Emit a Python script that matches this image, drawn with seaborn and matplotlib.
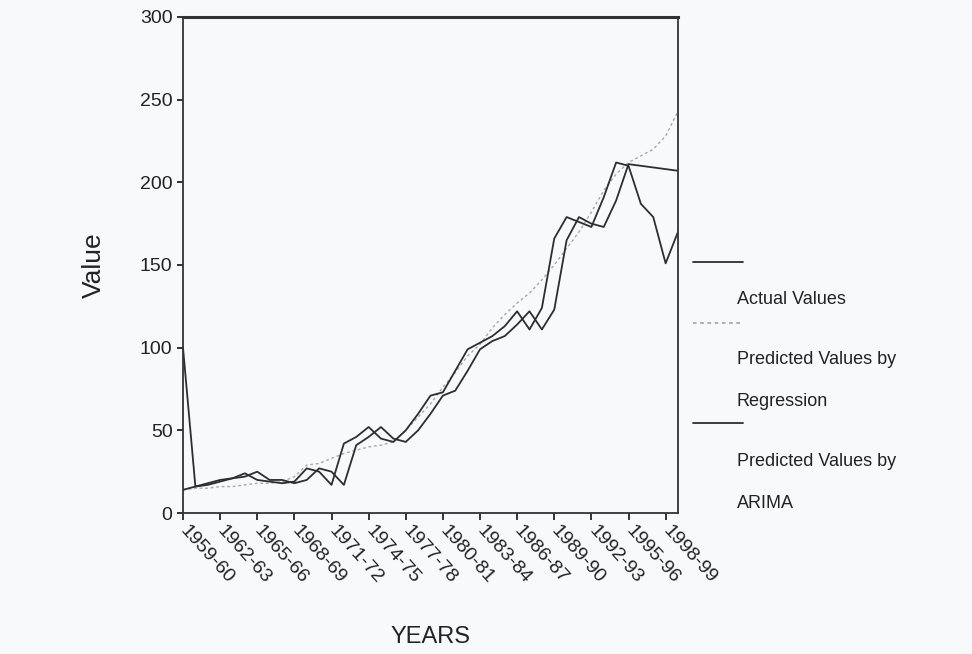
import numpy as np
import pandas as pd
import matplotlib
matplotlib.use("Agg")
import matplotlib.pyplot as plt
import seaborn as sns
from matplotlib.lines import Line2D

sns.set_style("ticks")
plt.rcParams['font.family'] = ['Liberation Sans', 'DejaVu Sans']

# anos (41 periodos, rotulo a cada 3)
anos = ["1959-60", "1960-61", "1961-62", "1962-63", "1963-64", "1964-65", "1965-66",
        "1966-67", "1967-68", "1968-69", "1969-70", "1970-71", "1971-72", "1972-73",
        "1973-74", "1974-75", "1975-76", "1976-77", "1977-78", "1978-79", "1979-80",
        "1980-81", "1981-82", "1982-83", "1983-84", "1984-85", "1985-86", "1986-87",
        "1987-88", "1988-89", "1989-90", "1990-91", "1991-92", "1992-93", "1993-94",
        "1994-95", "1995-96", "1996-97", "1997-98", "1998-99", "1999-00"]

actual = [14, 16, 18, 20, 21, 24, 20, 19, 18, 19, 27, 25, 17, 42, 46, 52, 45, 43, 50, 60,
          71, 73, 86, 99, 103, 107, 113, 122, 111, 124, 166, 179, 176, 173, 191, 212,
          210, 187, 179, 151, 170]

regressao = [14, 15, 15, 16, 16, 17, 18, 18, 19, 22, 29, 30, 33, 36, 38, 40, 41, 43, 50, 58,
             66, 76, 85, 95, 102, 112, 120, 127, 133, 141, 150, 160, 170, 182, 195, 205,
             212, 216, 220, 228, 243]

arima = [100, 16, 17, 19, 21, 22, 25, 20, 20, 18, 20, 27, 25, 17, 41, 46, 52, 45, 43, 50,
         60, 71, 74, 86, 99, 104, 107, 114, 122, 111, 123, 165, 179, 175, 173, 189,
         211, 210, 209, 208, 207]

df = pd.DataFrame({'pos': np.arange(len(anos)), 'ano': anos,
                   'actual': actual, 'regressao': regressao, 'arima': arima})

fundo = '#f7f9fb'
fig = plt.figure(figsize=(9.72, 6.54), dpi=100, facecolor=fundo)
ax = fig.add_axes([183 / 972, 1 - 513 / 654, (678 - 183) / 972, (513 - 17) / 654])
ax.set_facecolor(fundo)

sns.lineplot(x='pos', y='regressao', data=df, ax=ax, color='#a8a8a8', linewidth=1.0,
             linestyle=(0, (2, 2)))
sns.lineplot(x='pos', y='arima', data=df, ax=ax, color='#2e2e2e', linewidth=1.3)
sns.lineplot(x='pos', y='actual', data=df, ax=ax, color='#2e2e2e', linewidth=1.3)

ax.set_xlim(0, len(anos) - 1)
ax.set_ylim(0, 300)
ax.set_yticks(range(0, 301, 50))
ax.set_xticks(df['pos'][::3])
ax.set_xticklabels(df['ano'][::3], rotation=-48, ha='left', va='center',
                   rotation_mode='anchor', fontsize=14, color='#222222')
ax.tick_params(axis='y', labelsize=14, colors='#222222', length=4, width=1.3)
ax.tick_params(axis='x', length=5, width=1.3, pad=6)
for lado in ['left', 'right', 'bottom']:
    ax.spines[lado].set_linewidth(1.3)
    ax.spines[lado].set_color('#333333')
ax.spines['top'].set_linewidth(2.2)
ax.spines['top'].set_color('#333333')

ax.set_xlabel('YEARS', fontsize=17, color='#222222')
ax.xaxis.set_label_coords(0.5, -0.228)
ax.set_ylabel('Value', fontsize=19, color='#222222')
ax.yaxis.set_label_coords(-0.155, 0.5)

# legenda no estilo SPSS (linha acima do texto)
def px(x, y):
    return x / 972, 1 - y / 654

for y, cor, estilo in [(262, '#2e2e2e', '-'), (323, '#a8a8a8', (0, (2, 2))), (423, '#2e2e2e', '-')]:
    (x0, y0), (x1, _) = px(693, y), px(743, y)
    fig.add_artist(Line2D([x0, x1], [y0, y0], color=cor, linewidth=1.3, linestyle=estilo))

for y, txt in [(300, 'Actual Values'), (360, 'Predicted Values by'), (402, 'Regression'),
               (461, 'Predicted Values by'), (504, 'ARIMA')]:
    xf, yf = px(737, y)
    fig.text(xf, yf, txt, fontsize=13, color='#222222', ha='left', va='center')

plt.savefig('out.png', dpi=100, facecolor=fundo)
